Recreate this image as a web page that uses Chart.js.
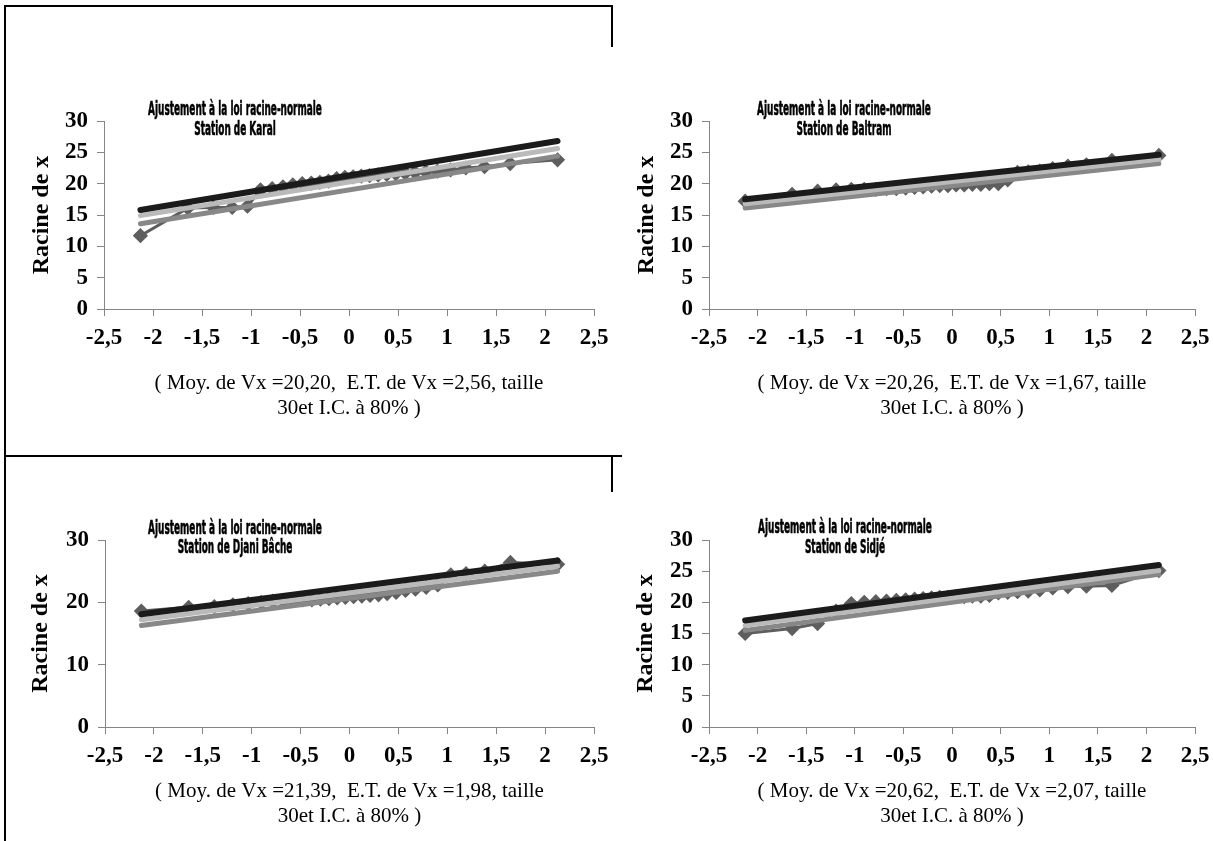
<!DOCTYPE html>
<html>
<head>
<meta charset="utf-8">
<script src="https://cdn.jsdelivr.net/npm/chart.js@4.4.0/dist/chart.umd.min.js"></script>
<style>
  body { margin: 0; width: 1213px; height: 841px; background: #fff; position: relative; overflow: hidden; }
  .rule { position: absolute; background: #000; }
  .panel { position: absolute; }
  .title {
    position: absolute;
    font-family: 'Liberation Sans Narrow', 'DejaVu Sans Condensed', sans-serif;
    font-weight: bold;
    font-size: 20px;
    white-space: nowrap;
    line-height: 1;
    -webkit-text-stroke: 0.6px #000;
  }
</style>
</head>
<body>

<div class="rule" style="left:5px;top:5px;width:608px;height:2px"></div>
<div class="rule" style="left:4px;top:5px;width:2px;height:836px"></div>
<div class="rule" style="left:611px;top:5px;width:2px;height:42px"></div>
<div class="rule" style="left:5px;top:455px;width:617px;height:2px"></div>
<div class="rule" style="left:611px;top:456px;width:2px;height:36px"></div>

<script>
'use-strict'

// normal quantiles of the 30 plotting positions
const zScores = [-2.128, -1.645, -1.383, -1.192, -1.036, -0.903, -0.784, -0.674, -0.573, -0.477,
    -0.385, -0.297, -0.210, -0.126, -0.042, 0.042, 0.126, 0.210, 0.297, 0.385,
    0.477, 0.573, 0.674, 0.784, 0.903, 1.036, 1.192, 1.383, 1.645, 2.128]
const lineEnds = [-2.128, 2.128]

const karalValues = [11.7, 16.1, 16.2, 16.2, 16.4, 19.0, 19.2, 19.5, 19.8, 20.0,
    20.1, 20.2, 20.4, 20.8, 21.0, 21.1, 21.2, 21.3, 21.4, 21.5,
    21.6, 21.7, 21.8, 21.9, 22.0, 22.2, 22.5, 22.7, 23.2, 23.8]
const karalUpper = [15.8, 26.8]
const karalFit = [14.9, 25.6]
const karalLower = [13.6, 24.4]

const baltramValues = [17.2, 18.3, 18.8, 19.0, 19.1, 19.1, 19.1, 19.2, 19.2, 19.3,
    19.4, 19.5, 19.6, 19.7, 19.7, 19.8, 19.8, 19.9, 19.9, 20.0,
    20.0, 20.6, 21.8, 21.9, 22.0, 22.4, 22.8, 23.0, 23.7, 24.5]
const baltramUpper = [17.5, 24.6]
const baltramFit = [16.8, 23.9]
const baltramLower = [16.1, 23.2]

const djaniValues = [18.6, 19.2, 19.3, 19.6, 19.8, 20.0, 20.2, 20.2, 20.3, 20.4,
    20.4, 20.5, 20.6, 20.7, 20.8, 20.9, 21.0, 21.1, 21.2, 21.4,
    21.6, 21.9, 22.1, 22.4, 22.8, 24.4, 24.6, 25.0, 26.4, 26.1]
const djaniUpper = [18.1, 26.7]
const djaniFit = [17.2, 25.8]
const djaniLower = [16.3, 25.0]

const sidjeValues = [15.0, 15.8, 16.6, 18.6, 19.8, 20.0, 20.1, 20.2, 20.3, 20.4,
    20.5, 20.6, 20.7, 20.8, 20.8, 20.9, 20.9, 21.0, 21.0, 21.1,
    21.5, 21.6, 21.7, 21.8, 22.0, 22.3, 22.5, 22.6, 22.7, 25.1]
const sidjeUpper = [17.1, 26.0]
const sidjeFit = [16.3, 25.1]
const sidjeLower = [15.5, 24.5]

const xTickLabels = ['-2,5', '-2', '-1,5', '-1', '-0,5', '0', '0,5', '1', '1,5', '2', '2,5']
const yTicksBy5 = ['0', '5', '10', '15', '20', '25', '30']
const yTicksBy10 = ['0', '10', '20', '30']

const chartTitle = 'Ajustement à la loi racine-normale'
const stationNames = ['Station de Karal', 'Station de Baltram', 'Station de Djani Bâche', 'Station de Sidjé']
const subtitles = [
    ['( Moy. de Vx =20,20,  E.T. de Vx =2,56, taille', '30et I.C. à 80% )'],
    ['( Moy. de Vx =20,26,  E.T. de Vx =1,67, taille', '30et I.C. à 80% )'],
    ['( Moy. de Vx =21,39,  E.T. de Vx =1,98, taille', '30et I.C. à 80% )'],
    ['( Moy. de Vx =20,62,  E.T. de Vx =2,07, taille', '30et I.C. à 80% )']
]

// page layout of each panel
const panels = [
    { values: karalValues, upper: karalUpper, fit: karalFit, lower: karalLower, yTicks: yTicksBy5, yStep: 5,
      box: { left: 0, top: 80, width: 615, height: 360 }, plot: { left: 104, right: 594, top: 121, bottom: 309 },
      yTitleX: 42, subLine2: 408, titleX: 235, titleY: [108, 128] },
    { values: baltramValues, upper: baltramUpper, fit: baltramFit, lower: baltramLower, yTicks: yTicksBy5, yStep: 5,
      box: { left: 613, top: 80, width: 600, height: 360 }, plot: { left: 709, right: 1195, top: 121, bottom: 309 },
      yTitleX: 647, subLine2: 408, titleX: 844, titleY: [108, 128] },
    { values: djaniValues, upper: djaniUpper, fit: djaniFit, lower: djaniLower, yTicks: yTicksBy10, yStep: 10,
      box: { left: 0, top: 500, width: 615, height: 341 }, plot: { left: 105, right: 594, top: 540, bottom: 727 },
      yTitleX: 41, subLine2: 816, titleX: 235, titleY: [527, 546] },
    { values: sidjeValues, upper: sidjeUpper, fit: sidjeFit, lower: sidjeLower, yTicks: yTicksBy5, yStep: 5,
      box: { left: 613, top: 500, width: 600, height: 341 }, plot: { left: 709, right: 1195, top: 540, bottom: 727 },
      yTitleX: 646, subLine2: 816, titleX: 845, titleY: [526, 546] }
]

const toPoints = (xs, ys) => xs.map((x, i) => ({ x: x, y: ys[i] }))

const lineSet = (data, color, width, order) => ({
    data: data,
    showLine: true,
    borderColor: color,
    borderWidth: width,
    borderCapStyle: 'round',
    pointRadius: 0,
    order: order
})

const serif = "'Liberation Serif', 'Times New Roman', serif"
const subFont = { family: serif, size: 21, lineHeight: 1.19 }
const tickFont = { family: serif, size: 23, weight: 'bold' }
const yTitleFont = { family: serif, size: 24, weight: 'bold' }
const axisGray = '#858585'

panels.forEach((p, k) => {
    const canvas = document.createElement('canvas')
    canvas.className = 'panel'
    canvas.width = p.box.width
    canvas.height = p.box.height
    canvas.style.left = p.box.left + 'px'
    canvas.style.top = p.box.top + 'px'
    document.body.appendChild(canvas)

    const boxRight = p.box.left + p.box.width
    const boxBottom = p.box.top + p.box.height
    const subLh = subFont.size * subFont.lineHeight
    const yTitleLh = yTitleFont.size * 1.2

    new Chart(canvas.getContext('2d'), {
        type: 'scatter',
        data: {
            datasets: [
                lineSet(toPoints(lineEnds, p.upper), '#1b1b1b', 6, 0),
                lineSet(toPoints(lineEnds, p.fit), '#bababa', 5, 1),
                lineSet(toPoints(lineEnds, p.lower), '#888888', 5, 2),
                {
                    data: toPoints(zScores, p.values),
                    showLine: true,
                    borderColor: '#5e5e5e',
                    borderWidth: 3,
                    pointStyle: 'rectRot',
                    pointRadius: 5.5,
                    pointBackgroundColor: '#5e5e5e',
                    pointBorderColor: '#5e5e5e',
                    order: 3
                }
            ]
        },
        options: {
            responsive: false,
            animation: false,
            devicePixelRatio: 1,
            layout: {
                padding: { left: 0, right: boxRight - p.plot.right, top: p.plot.top - p.box.top, bottom: 0 }
            },
            plugins: { legend: { display: false }, tooltip: { enabled: false } },
            scales: {
                x: {
                    type: 'linear',
                    min: -2.5,
                    max: 2.5,
                    ticks: {
                        stepSize: 0.5,
                        autoSkip: false,
                        maxRotation: 0,
                        padding: 8,
                        color: '#000',
                        font: tickFont,
                        callback: (v, i) => xTickLabels[i]
                    },
                    grid: { drawOnChartArea: false, tickLength: 7, color: axisGray },
                    border: { color: axisGray },
                    title: {
                        display: true,
                        text: subtitles[k],
                        color: '#000',
                        font: subFont,
                        padding: { top: 0, bottom: boxBottom - p.subLine2 - subLh / 2 }
                    },
                    afterFit: s => {
                        s.height = boxBottom - p.plot.bottom
                        s.paddingLeft = 0
                        s.paddingRight = 0
                    }
                },
                y: {
                    min: 0,
                    max: 30,
                    ticks: {
                        stepSize: p.yStep,
                        padding: 9,
                        color: '#000',
                        font: tickFont,
                        callback: (v, i) => p.yTicks[i]
                    },
                    grid: { drawOnChartArea: false, tickLength: 7, color: axisGray },
                    border: { color: axisGray },
                    title: {
                        display: true,
                        text: 'Racine de x',
                        color: '#000',
                        font: yTitleFont,
                        padding: { top: p.yTitleX - p.box.left - yTitleLh / 2, bottom: 0 }
                    },
                    afterFit: s => {
                        s.width = p.plot.left - p.box.left
                        s.paddingTop = 0
                        s.paddingBottom = 0
                    }
                }
            }
        }
    })

    // chart title, two centred lines squeezed to the narrow face of the original
    const lines = [chartTitle, stationNames[k]].map((text, j) => {
        const d = document.createElement('div')
        d.className = 'title'
        d.textContent = text
        d.style.left = p.titleX + 'px'
        d.style.top = p.titleY[j] + 'px'
        document.body.appendChild(d)
        return d
    })
    const squeeze = 174 / lines[0].offsetWidth
    lines.forEach(d => {
        d.style.transform = `translate(-50%, -50%) scaleX(${squeeze})`
    })
})
</script>
</body>
</html>
